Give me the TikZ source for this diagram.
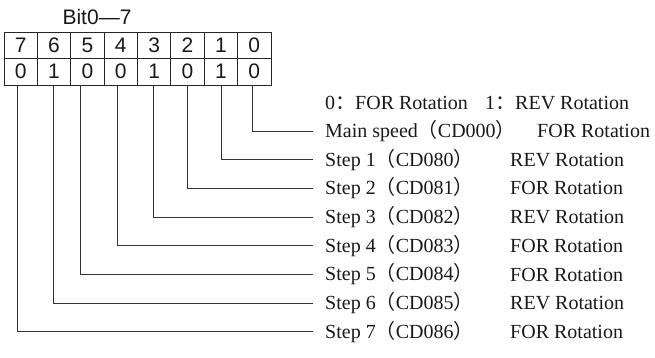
\documentclass[tikz,border=0pt]{standalone}
\usepackage{fontspec}
\setmainfont{Liberation Serif}
\newfontfamily\cellfont{Liberation Sans}
\newfontfamily\cjk{Noto Sans CJK SC}
\usepackage{xcolor}
\usetikzlibrary{positioning}

\newcommand{\lp}{{\cjk （}}
\newcommand{\rp}{{\cjk ）}}
\newcommand{\fc}{{\cjk ：}}

\begin{document}
\begin{tikzpicture}[
  x=1pt,y=-1pt,
  every node/.style={inner sep=0pt,text=black!90},
  bitcell/.style={draw=black!85,line width=0.9pt,minimum width=33.4pt,minimum height=26.5pt,font=\cellfont\fontsize{21}{21}\selectfont},
  wire/.style={draw=black!80,line width=0.9pt},
  rowtext/.style={anchor=west,font=\fontsize{20}{20}\selectfont}
]
\useasboundingbox (0,0) rectangle (655,358);
\node[font=\cellfont\fontsize{21}{21}\selectfont] (title) at (97,17) {Bit0—7};
\foreach \b/\v [count=\i from 0] in {7/0,6/1,5/0,4/0,3/1,2/0,1/1,0/0} {
  \node[bitcell] (top\b) at (4+33.375*\i+16.69,45.25) {\b};
  \node[bitcell] (val\b) at (4+33.375*\i+16.69,71.75) {\v};
}
\node[rowtext] (key0) at (325,103) {0\fc FOR Rotation};
\node[rowtext] (key1) at (485,103) {1\fc REV Rotation};
\node[rowtext] (lbl0) at (325,131) {Main speed\lp CD000\rp};
\node[rowtext] (dir0) at (537,131) {FOR Rotation};
\foreach \b/\d in {1/REV,2/FOR,3/REV,4/FOR,5/FOR,6/REV,7/FOR} {
  \node[rowtext] (lbl\b) at (325,131+28.7*\b) {Step \b\lp CD08\the\numexpr\b-1\relax\rp};
  \node[rowtext] (dir\b) at (510,131+28.7*\b) {\d\ Rotation};
}
\foreach \b/\dx in {0/-2,1/1,2/0,3/-1,4/-3,5/-7,6/-1,7/-3.7}
  \draw[wire] ([xshift=\dx pt]val\b.south) |- ([xshift=-12pt]lbl\b.west);
\end{tikzpicture}
\end{document}
